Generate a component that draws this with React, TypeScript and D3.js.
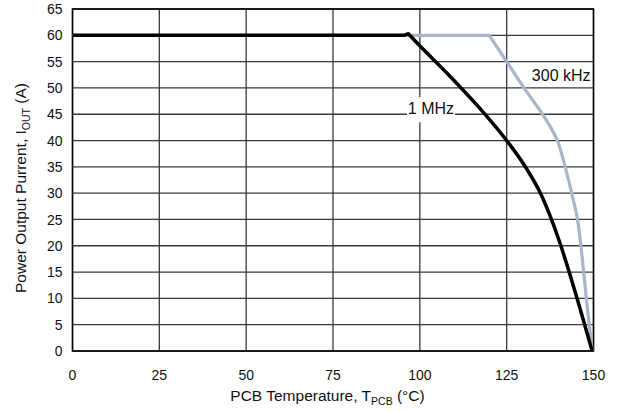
import React from "react";
import * as d3 from "d3";

const W = 618;
const H = 412;

const xTicks = [0, 25, 50, 75, 100, 125, 150];
const yTicks = [0, 5, 10, 15, 20, 25, 30, 35, 40, 45, 50, 55, 60, 65];

// 1 MHz curve (temperature °C, current A)
const mhzTemp = [0, 95.5, 96.7, 100, 107.7, 117.3, 125, 130, 135, 140, 145, 149.6];
const mhzCurrent = [60, 60, 60.3, 58, 52.9, 46.1, 40, 35.4, 29.6, 21.2, 10.6, 0];
const mhzKink = 2; // index where the smooth descent starts

// 300 kHz curve
const khzTemp = [0, 120, 125, 130, 135, 137.5, 140, 142, 144, 145.5, 146.5, 147.3, 148, 148.8, 149.6];
const khzCurrent = [60, 60, 55, 50, 45.3, 42.7, 39.3, 34.6, 29.2, 24.6, 19.2, 14.2, 9.6, 4.9, 0];
const khzKink = 1;

const labels = [
  { text: "1 MHz", t: 103.2, i: 45, box: true },
  { text: "300 kHz", t: 140.7, i: 51.4, box: false },
];

export default function App() {
  const x = d3.scaleLinear().domain([0, 150]).range([72.5, 593.5]);
  const y = d3.scaleLinear().domain([0, 65]).range([351, 9]);

  const lin = d3
    .line<[number, number]>()
    .x((d) => x(d[0]))
    .y((d) => y(d[1]))
    .curve(d3.curveLinear);
  const smooth = d3
    .line<[number, number]>()
    .x((d) => x(d[0]))
    .y((d) => y(d[1]))
    .curve(d3.curveMonotoneX);

  const mhz: [number, number][] = mhzTemp.map((t, k) => [t, mhzCurrent[k]]);
  const khz: [number, number][] = khzTemp.map((t, k) => [t, khzCurrent[k]]);

  const pathOf = (pts: [number, number][], kink: number) =>
    (lin(pts.slice(0, kink + 1)) || "") + (smooth(pts.slice(kink)) || "").replace(/^M/, "L");

  const font = "'Liberation Sans', Arial, Helvetica, sans-serif";
  const grid = "#3a3a3a";

  return (
    <svg
      width={W}
      height={H}
      style={{ position: "absolute", left: 0, top: 0, background: "#fff" }}
      fontFamily={font}
    >
      <rect x={0} y={0} width={W} height={H} fill="#fff" />
      {yTicks.map((v) => (
        <line key={"gy" + v} x1={x(0)} x2={x(150)} y1={y(v)} y2={y(v)} stroke={grid} strokeWidth={1.3} />
      ))}
      {xTicks.map((v) => (
        <line key={"gx" + v} x1={x(v)} x2={x(v)} y1={y(0)} y2={y(65)} stroke={grid} strokeWidth={1.3} />
      ))}
      <rect
        x={x(0)}
        y={y(65)}
        width={x(150) - x(0)}
        height={y(0) - y(65)}
        fill="none"
        stroke="#000"
        strokeWidth={1.5}
      />
      <path d={pathOf(khz, khzKink)} fill="none" stroke="#a9b5c9" strokeWidth={3.2} strokeLinejoin="round" />
      <path d={pathOf(mhz, mhzKink)} fill="none" stroke="#000" strokeWidth={3.5} strokeLinejoin="round" />

      {labels.map((l) => (
        <g key={l.text}>
          {l.box && <rect x={x(l.t) - 24} y={y(l.i) - 17} width={48} height={25} fill="#fff" />}
          <text x={x(l.t)} y={y(l.i)} textAnchor="middle" fontSize={16} fill="#111">
            {l.text}
          </text>
        </g>
      ))}

      {yTicks.map((v) => (
        <text key={"ly" + v} x={x(0) - 10} y={y(v)} dy="0.36em" textAnchor="end" fontSize={14} fill="#111">
          {v}
        </text>
      ))}
      {xTicks.map((v) => (
        <text key={"lx" + v} x={x(v)} y={380} textAnchor="middle" fontSize={14} fill="#111">
          {v}
        </text>
      ))}

      <text x={327.5} y={401} textAnchor="middle" fontSize={15.5} fill="#111">
        PCB Temperature, T
        <tspan fontSize={10.5} dy={4}>PCB</tspan>
        <tspan dy={-4}> (°C)</tspan>
      </text>
      <text transform="translate(25.5,188) rotate(-90)" textAnchor="middle" fontSize={15.5} fill="#111">
        Power Output Purrent, I
        <tspan fontSize={10.5} dy={4}>OUT</tspan>
        <tspan dy={-4}>  (A)</tspan>
      </text>
    </svg>
  );
}
